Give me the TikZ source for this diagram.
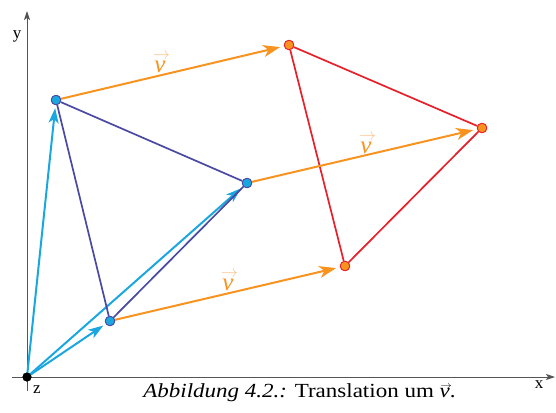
\documentclass[tikz,border=0pt]{standalone}
\usepackage{fontspec}
\setmainfont{Liberation Serif}
\usetikzlibrary{arrows.meta}
\definecolor{cyanv}{HTML}{1AA7DF}
\definecolor{tri}{HTML}{4A4AA3}
\definecolor{orng}{HTML}{F7931E}
\definecolor{redt}{HTML}{E8202A}
\definecolor{axisc}{HTML}{555555}
\definecolor{accentc}{HTML}{FBC48A}
\newcommand{\vvec}[3]{\leavevmode\hbox{\ooalign{\textit{v}\cr\hidewidth\kern0.12em\raisebox{#2}{\textcolor{#1}{$#3\rightarrow$}}\hidewidth\cr}}}
\begin{document}
\begin{tikzpicture}[x=1pt,y=-1pt,
  axisline/.style={draw=axisc,line width=1pt},
  posvec/.style={draw=cyanv,line width=2pt,-{Stealth[length=15pt,width=10pt,inset=4pt]},shorten >=3pt},
  transvec/.style={draw=orng,line width=2pt,-{Stealth[length=17pt,width=12pt,inset=5pt]},shorten >=4pt},
  triedge/.style={draw=tri,line width=1.7pt},
  imgedge/.style={draw=redt,line width=1.7pt},
  bpt/.style={circle,fill=cyanv,draw=tri,line width=0.8pt,inner sep=0pt,minimum size=9.5pt},
  opt/.style={circle,fill=orng,draw=redt,line width=0.8pt,inner sep=0pt,minimum size=9.5pt},
  vlabel/.style={text=orng,anchor=base,inner sep=0pt,font=\fontsize{25}{25}\selectfont},
  axlabel/.style={font=\fontsize{17}{17}\selectfont,text=black,anchor=base,inner sep=0pt}]
\useasboundingbox (0,0) rectangle (556,412);
% axes
\coordinate (xs) at (12,377);
\coordinate (xe) at (555,377);
\coordinate (ys) at (27,391);
\coordinate (ye) at (27,11);
\draw[axisline,-{Stealth[length=9pt,width=6pt,inset=2pt]}] (xs) -- (xe);
\draw[axisline,-{Stealth[length=9pt,width=6pt,inset=2pt]}] (ys) -- (ye);
\node[axlabel] (ly) at (17,38) {y};
\node[axlabel] (lx) at (539,388) {x};
\node[axlabel] (lz) at (37,393) {z};
% points
\node[circle,fill=black,inner sep=0pt,minimum size=9pt] (O) at (27,377) {};
\node[bpt] (A) at (56,100) {};
\node[bpt] (B) at (247,183) {};
\node[bpt] (C) at (110,321) {};
\node[opt] (A2) at (289,45) {};
\node[opt] (B2) at (482,128) {};
\node[opt] (C2) at (345,266) {};
% position vectors
\draw[posvec] (O.center) -- (A);
\draw[posvec] (O.center) -- (B);
\draw[posvec] (O.center) -- (C);
% triangles
\draw[triedge] (A) -- (B) -- (C) -- (A);
\draw[imgedge] (A2) -- (B2) -- (C2) -- (A2);
% translation vectors
\draw[transvec] (A) -- (A2);
\draw[transvec] (B) -- (B2);
\draw[transvec] (C) -- (C2);
\node[vlabel] (v1) at (160,72) {\vvec{accentc}{0.5em}{\scriptstyle}};
\node[vlabel] (v2) at (366,153) {\vvec{accentc}{0.5em}{\scriptstyle}};
\node[vlabel] (v3) at (228,290) {\vvec{accentc}{0.5em}{\scriptstyle}};
% redraw points on top
\node[bpt] at (A) {};
\node[bpt] at (B) {};
\node[bpt] at (C) {};
\node[opt] at (A2) {};
\node[opt] at (B2) {};
\node[opt] at (C2) {};
\node[circle,fill=black,inner sep=0pt,minimum size=9pt] at (O) {};
% caption
\node[anchor=base,inner sep=0pt,font=\fontsize{20}{22}\selectfont] (cap) at (299.5,397) {\scalebox{1.15}[1]{\textit{Abbildung 4.2.:} Translation um \vvec{black}{0.42em}{\scriptscriptstyle}.}};
\end{tikzpicture}
\end{document}
